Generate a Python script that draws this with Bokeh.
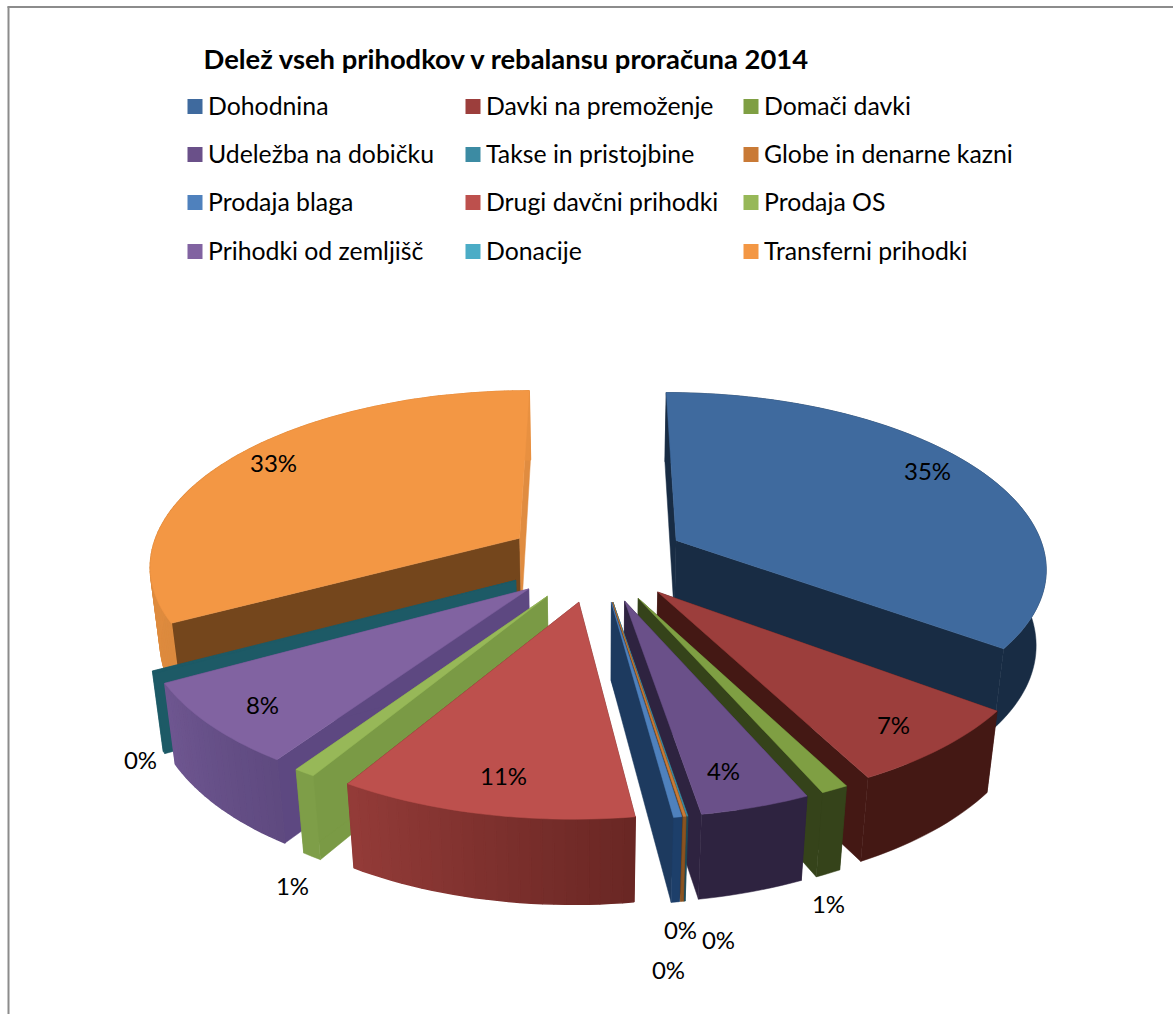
import numpy as np
from bokeh.plotting import figure
from bokeh.models import Range1d
from bokeh.core.properties import value
from bokeh.embed import file_html
from bokeh.resources import INLINE

# ---- data -------------------------------------------------------------
title = "Delež vseh prihodkov v rebalansu proračuna 2014"
categories = ["Dohodnina", "Davki na premoženje", "Domači davki",
              "Udeležba na dobičku", "Takse in pristojbine", "Globe in denarne kazni",
              "Prodaja blaga", "Drugi davčni prihodki", "Prodaja OS",
              "Prihodki od zemljišč", "Donacije", "Transferni prihodki"]
shares = [35.0, 7.1, 1.0, 4.0, 0.05, 0.1, 0.3, 10.8, 0.8, 7.6, 0.2, 33.05]
labels = ["35%", "7%", "1%", "4%", "0%", "0%", "0%", "11%", "1%", "8%", "0%", "33%"]

# ---- styles -----------------------------------------------------------
legend_col = ["#3f6a9e", "#9c3e3c", "#7f9f43", "#6a5089", "#3c8ba3", "#c97a36",
              "#4f81bd", "#bd504d", "#97b858", "#8163a1", "#4bacc6", "#f39744"]
top_col = legend_col[:10] + ["#1d5a66", "#f39744"]
radial_a = ["#182c44", "#441814", "#35431a", "#2e2340", "#1d4a58", "#6d4018",
            "#1d3a5f", "#6a2724", "#7a9a45", "#5d4881", "#1d5a66", "#74461c"]
radial_b = ["#182c44", "#441814", "#35431a", "#2e2340", "#1d4a58", "#6d4018",
            "#1d3a5f", "#6a2724", "#7a9a45", "#5d4881", "#1d5a66", "#e08c40"]
outer_a = ["#182c44", "#441814", "#35431a", "#2e2340", "#1d4a58", "#8a5320",
           "#1d3f6a", "#6a2724", "#7e9e48", "#5f4a80", "#1d5a66", "#dc8a3e"]
outer_b = ["#182c44", "#441814", "#35431a", "#2e2340", "#1d4a58", "#8a5320",
           "#1d3f6a", "#933b38", "#7e9e48", "#6e5690", "#1d5a66", "#e89040"]

label_xy = [(927, 469.5), (893, 723.5), (828, 902.5), (723, 769.5), (680, 928.5), (718, 938.5),
            (668, 968.5), (503, 774.5), (292, 884.5), (262, 703.5), (140, 758.5), (273, 461.5)]
legend_x = [187, 465, 743]
legend_y = [106, 154, 202, 251]

# ---- perspective model of the exploded pie ----------------------------
CX, VY = 597.0, -644.0
Q, W, B, G, DZ = 368.0, 1203.0, 0.145, 105.5, 0.023
EXPLODE = 0.245


def project(X, Y, z):
    X, Y = np.asarray(X, float), np.asarray(Y, float)
    D = 1 + B * Y + DZ * z
    front = np.minimum(Y, 0)
    sx = CX + Q * X / D - 1 + 2.5 * X - 6.6 * front ** 2
    sy = VY + (W + G * z) / D + 3.25 * (1 - X) * front
    return sx, sy


def hex2rgb(c):
    return np.array([int(c[i:i + 2], 16) for i in (1, 3, 5)], float)


def mix(a, b, t):
    r = hex2rgb(a) * (1 - t) + hex2rgb(b) * t
    return "#%02x%02x%02x" % tuple(int(round(v)) for v in r)


total = sum(shares)
edges = np.concatenate([[0], np.cumsum(shares)]) * 360.0 / total
WIDTH, HEIGHT = 1173, 1014
p = figure(width=WIDTH, height=HEIGHT, output_backend="svg", toolbar_location=None,
           x_range=Range1d(0, WIDTH), y_range=Range1d(HEIGHT, 0), min_border=0)
p.axis.visible = False
p.grid.visible = False
p.outline_line_color = None
p.background_fill_color = "white"
p.border_fill_color = "white"

# frame of the chart area
p.line([8, 8], [6, HEIGHT], line_color="#8c8c8c", line_width=2)
p.line([7, WIDTH], [6.5, 6.5], line_color="#8c8c8c", line_width=2)

mids = (edges[:-1] + edges[1:]) / 2
order = np.argsort(-np.cos(np.radians(mids)))
for i in order:
    a0, a1 = np.radians(edges[i]), np.radians(edges[i + 1])
    m = np.radians(mids[i])
    x0, y0 = EXPLODE * np.sin(m), EXPLODE * np.cos(m)
    n = max(2, int(np.degrees(a1 - a0) / 1.5) + 2)
    th = np.linspace(a0, a1, n)
    X, Y = x0 + np.sin(th), y0 + np.cos(th)

    # radial walls
    for k, col in ((0, radial_a[i]), (-1, radial_b[i])):
        tx, ty = project([x0, X[k]], [y0, Y[k]], 0)
        bx, by = project([X[k], x0], [Y[k], y0], 1)
        p.patch(list(tx) + list(bx), list(ty) + list(by),
                fill_color=col, line_color=col, line_width=0.5)

    # outer wall, shaded in strips
    if outer_a[i] == outer_b[i]:
        bx, by = project(X, Y, 1)
        tx, ty = project(X, Y, 0)
        p.patch(list(tx) + list(bx[::-1]), list(ty) + list(by[::-1]),
                fill_color=outer_a[i], line_color=outer_a[i], line_width=0.5)
    else:
        for j in range(n - 1):
            tx, ty = project(X[j:j + 2], Y[j:j + 2], 0)
            bx, by = project(X[j:j + 2][::-1], Y[j:j + 2][::-1], 1)
            c = mix(outer_a[i], outer_b[i], j / max(1, n - 2))
            p.patch(list(tx) + list(bx), list(ty) + list(by),
                    fill_color=c, line_color=c, line_width=1.5)

    # top face
    tx, ty = project(np.r_[x0, X], np.r_[y0, Y], 0)
    p.patch(list(tx), list(ty), fill_color=top_col[i], line_color=top_col[i], line_width=0.5)

FONT = value("Lato")
for (lx, ly), t in zip(label_xy, labels):
    p.text([lx], [ly], text=[t], text_font=FONT, text_font_size="24px", text_color="#000000",
           text_align="center", text_baseline="middle")

p.text([203], [58], text=[title], text_font=FONT, text_font_style="bold", text_font_size="27.4px",
       text_color="#000000", text_align="left", text_baseline="middle")

for idx, name in enumerate(categories):
    r, c = idx // 3, idx % 3
    lx, ly = legend_x[c], legend_y[r]
    p.patch([lx, lx + 15, lx + 15, lx], [ly - 7.5, ly - 7.5, ly + 7.5, ly + 7.5],
            fill_color=legend_col[idx], line_color=None)
    p.text([lx + 20.5], [ly - 1], text=[name], text_font=FONT, text_font_size="24.8px", text_color="#000000",
           text_align="left", text_baseline="middle")

open("out.html", "w").write(file_html(p, INLINE))
